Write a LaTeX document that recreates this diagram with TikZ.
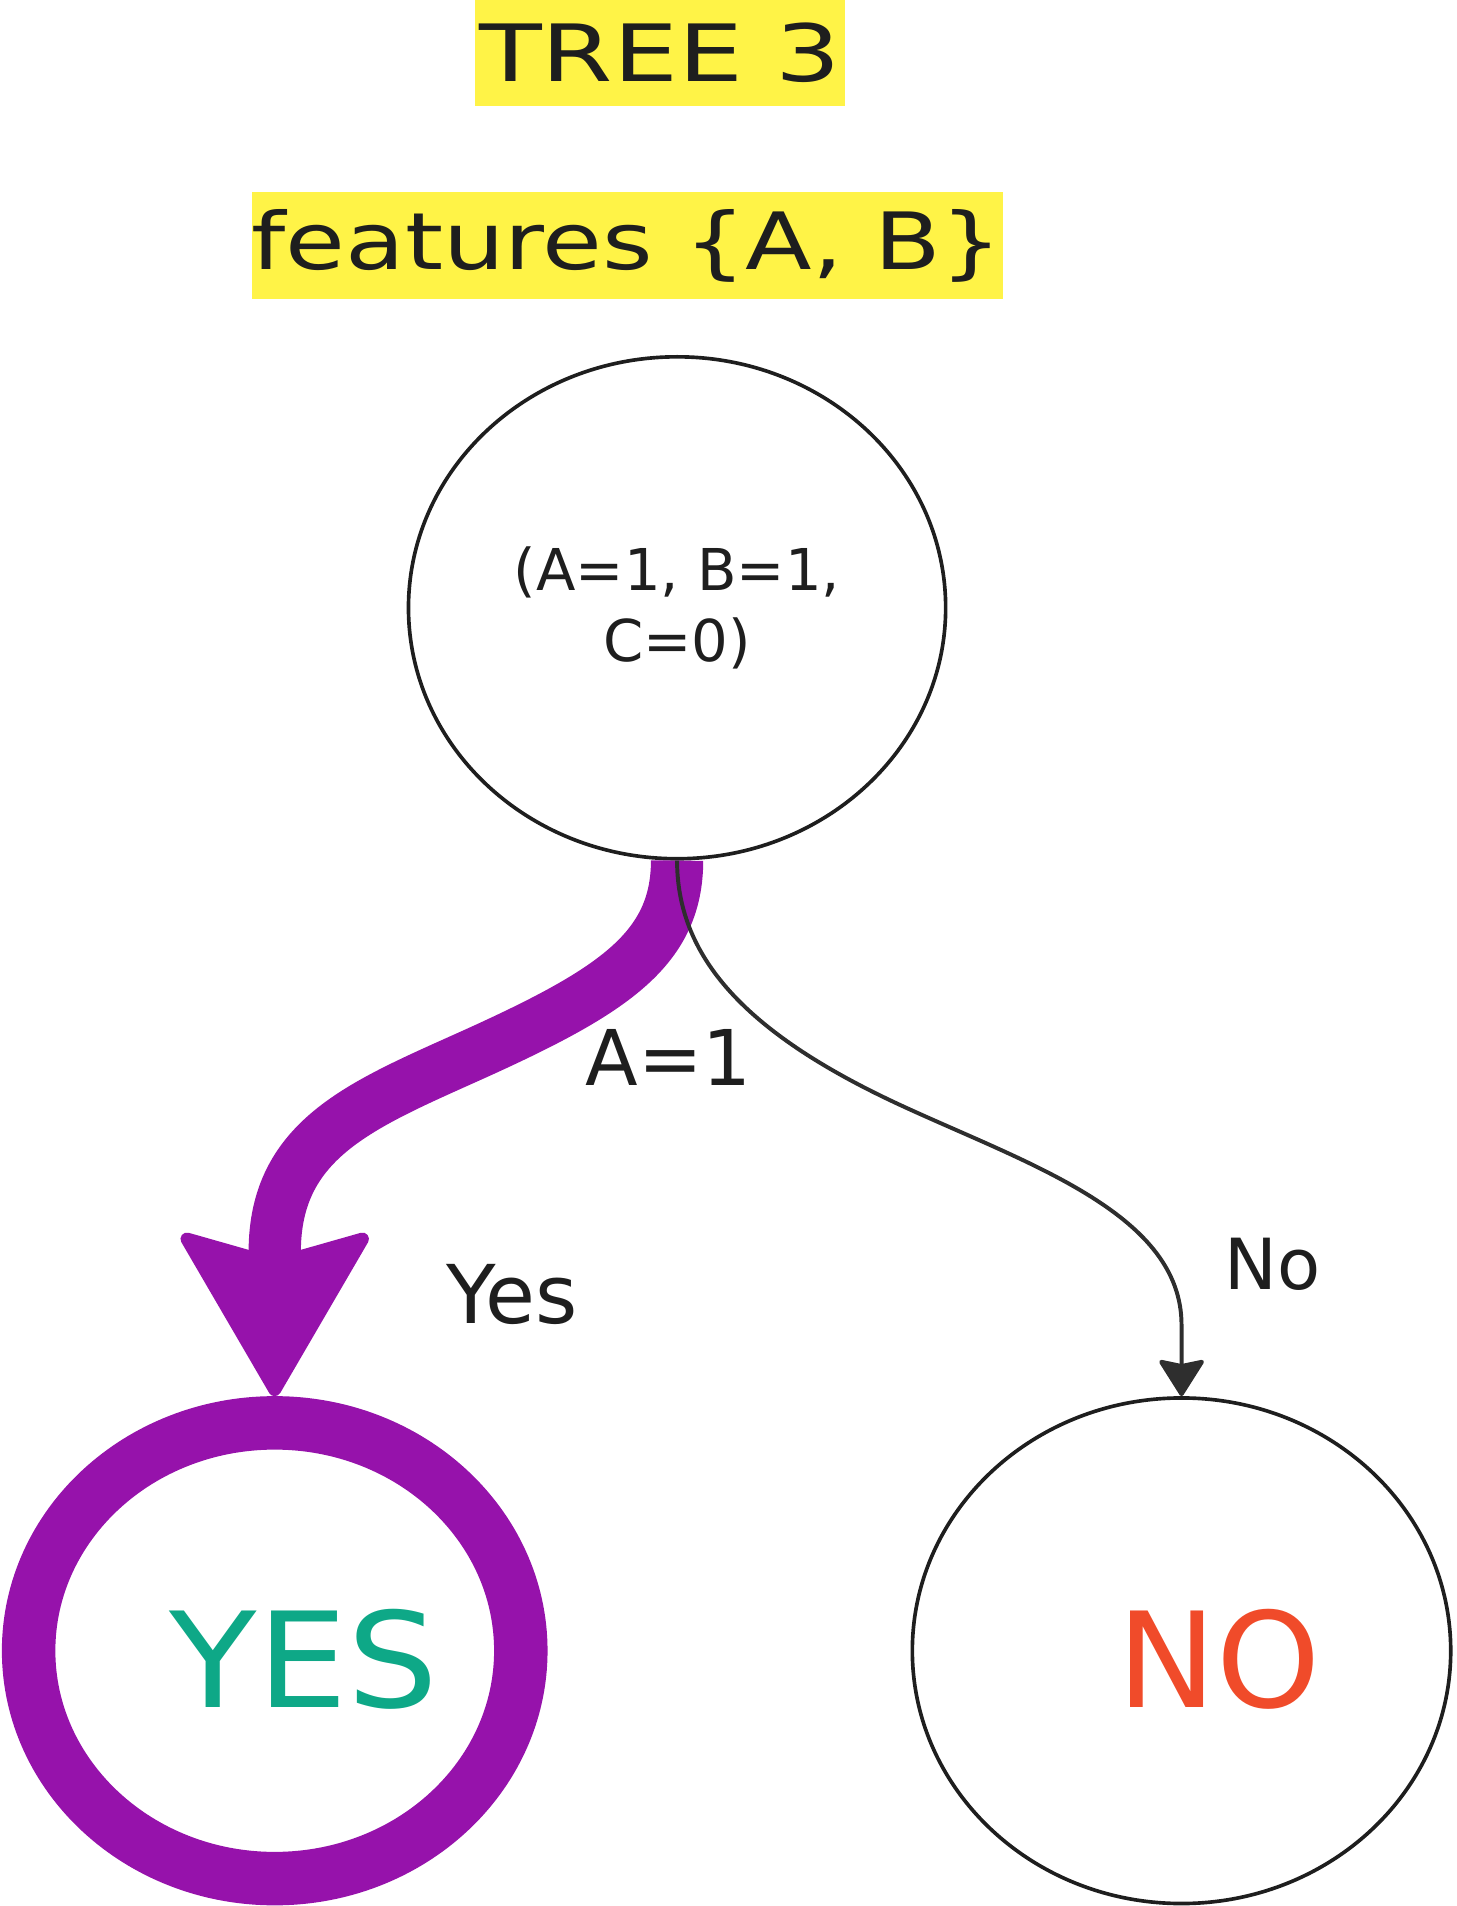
\documentclass[tikz,border=0pt]{standalone}
\usepackage{fontspec}
\setmainfont{DejaVu Sans}
\usetikzlibrary{shapes.geometric,arrows.meta}
\definecolor{hl}{HTML}{FFF347}
\definecolor{ink}{HTML}{1E1E1E}
\definecolor{arrowgray}{HTML}{2E2E2E}
\definecolor{pathpurple}{HTML}{9612AB}
\definecolor{yesgreen}{HTML}{0EA887}
\definecolor{nored}{HTML}{F04B2A}
\begin{document}
\begin{tikzpicture}[x=0.02cm, y=-0.02cm,
  titlebox/.style={fill=hl, inner sep=0pt, text=ink},
  treenode/.style={ellipse, draw=ink, line width=0.06cm, inner sep=0pt},
  chosennode/.style={ellipse, draw=pathpurple, line width=0.88cm, inner sep=0pt},
  edgelabel/.style={text=ink, inner sep=0pt},
  chosenpath/.style={draw=pathpurple, line width=0.86cm, line cap=butt,
    -{Stealth[length=2.85cm, width=3.3cm, inset=0.46cm, round, line width=6pt]}},
  otherpath/.style={draw=arrowgray, line width=0.065cm,
    -{Stealth[length=0.64cm, width=0.8cm, inset=0.08cm, round, line width=2pt]}}
]
\useasboundingbox (0,0) rectangle (1198,1568);

% titles
\node[titlebox, minimum width=6.08cm, minimum height=1.74cm] (title) at (543,43.5)
  {\fontsize{37}{44}\selectfont\scalebox{1.3}[1]{TREE 3}};
\node[titlebox, minimum width=12.28cm, minimum height=1.76cm] (features) at (516,202)
  {\fontsize{37}{44}\selectfont\scalebox{1.23}[1]{features \{A, B\}}};

% tree nodes
\node[treenode, minimum width=8.84cm, minimum height=8.26cm, align=center, text=ink,
  font=\fontsize{27}{33}\selectfont] (root) at (557,500)
  {(A=1, B=1,\\C=0)};
\node[chosennode, minimum width=8.1cm, minimum height=7.5cm] (yes) at (226,1358) {};
\node[treenode, minimum width=8.86cm, minimum height=8.32cm] (no) at (972,1358) {};
\node[text=yesgreen, inner sep=0pt] (yestext) at (250,1365) {\fontsize{62}{70}\selectfont\scalebox{1.08}[1]{YES}};
\node[text=nored, inner sep=0pt] (notext) at (1003,1365) {\fontsize{62}{70}\selectfont NO};

% connectors
\draw[chosenpath] (root.south) .. controls (557,780) and (505.6,814.6) .. (395,865)
  .. controls (300,908) and (226,935) .. (226,1030) -- (yes.north);
\draw[otherpath] (root.south) .. controls (557,790) and (617,853) .. (747,912)
  .. controls (850,959) and (972,1000) .. (972,1090) -- (no.north);

% labels
\node[edgelabel] (lblA) at (550,870) {\fontsize{36}{42}\selectfont A=1};
\node[edgelabel] (lblyes) at (421,1065) {\fontsize{38}{44}\selectfont Yes};
\node[edgelabel] (lblno) at (1047,1040) {\fontsize{33}{40}\selectfont No};
\end{tikzpicture}
\end{document}
